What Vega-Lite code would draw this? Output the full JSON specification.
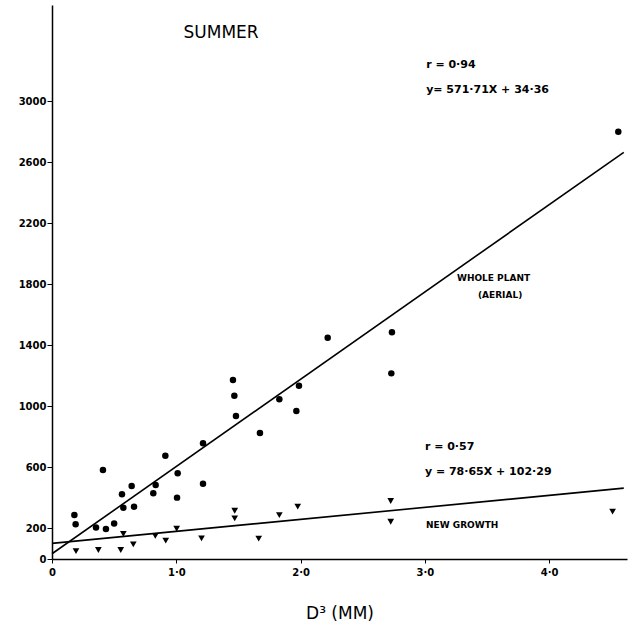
{
  "$schema": "https://vega.github.io/schema/vega-lite/v6.json",
  "autosize": {"type": "none"},
  "padding": {"left": 52, "top": 5, "right": 11, "bottom": 72},
  "width": 575,
  "height": 554,
  "background": "white",
  "config": {
    "view": {"stroke": null},
    "axis": {"grid": false, "domainColor": "black", "domainWidth": 1.5, "tickColor": "black", "labelColor": "black", "titleColor": "black", "labelFont": "DejaVu Sans", "titleFont": "DejaVu Sans"}
  },
  "datasets": {
    "whole": [
      {"d": 0.18, "w": 288}, {"d": 0.19, "w": 227}, {"d": 0.41, "w": 583}, {"d": 0.354, "w": 207},
      {"d": 0.434, "w": 196}, {"d": 0.50, "w": 233}, {"d": 0.563, "w": 424}, {"d": 0.574, "w": 336},
      {"d": 0.641, "w": 478}, {"d": 0.66, "w": 343}, {"d": 0.815, "w": 430}, {"d": 0.834, "w": 485},
      {"d": 0.912, "w": 677}, {"d": 1.011, "w": 561}, {"d": 1.006, "w": 402}, {"d": 1.215, "w": 758},
      {"d": 1.215, "w": 493}, {"d": 1.456, "w": 1172}, {"d": 1.467, "w": 1070}, {"d": 1.48, "w": 937},
      {"d": 1.673, "w": 825}, {"d": 1.829, "w": 1046}, {"d": 1.987, "w": 1135}, {"d": 1.966, "w": 969},
      {"d": 2.218, "w": 1449}, {"d": 2.735, "w": 1485}, {"d": 2.73, "w": 1216}, {"d": 4.556, "w": 2798}
    ],
    "newgrowth": [
      {"d": 0.193, "w": 52}, {"d": 0.373, "w": 59}, {"d": 0.553, "w": 59}, {"d": 0.574, "w": 164},
      {"d": 0.654, "w": 96}, {"d": 0.831, "w": 151}, {"d": 0.915, "w": 120}, {"d": 1.003, "w": 198},
      {"d": 1.203, "w": 135}, {"d": 1.47, "w": 316}, {"d": 1.47, "w": 266}, {"d": 1.663, "w": 133},
      {"d": 1.829, "w": 288}, {"d": 1.977, "w": 343}, {"d": 2.725, "w": 380}, {"d": 2.725, "w": 244},
      {"d": 4.51, "w": 310}
    ],
    "fits": [
      {"series": "whole", "d": 0, "w": 34.36}, {"series": "whole", "d": 4.6, "w": 2664.2},
      {"series": "new", "d": 0, "w": 102.29}, {"series": "new", "d": 4.6, "w": 464.1}
    ],
    "title": [{"d": 1.36, "w": 3445, "t": "SUMMER"}],
    "eqs": [
      {"d": 3.01, "w": 3236, "t": "r = 0·94"},
      {"d": 3.01, "w": 3072, "t": "y= 571·71X + 34·36"},
      {"d": 3.0, "w": 734, "t": "r = 0·57"},
      {"d": 3.0, "w": 570, "t": "y = 78·65X + 102·29"}
    ],
    "labels": [
      {"d": 3.258, "w": 1841, "t": "WHOLE  PLANT"},
      {"d": 3.427, "w": 1729, "t": "(AERIAL)"},
      {"d": 3.009, "w": 223, "t": "NEW  GROWTH"}
    ]
  },
  "layer": [
    {
      "data": {"name": "fits"},
      "mark": {"type": "line", "color": "black", "strokeWidth": 1.6},
      "encoding": {
        "x": {"field": "d", "type": "quantitative", "scale": {"domain": [0, 4.626], "nice": false},
          "axis": {"values": [0, 1, 2, 3, 4], "labelExpr": "datum.value == 0 ? '0' : replace(format(datum.value, '.1f'), '.', '·')",
            "title": "D³  (MM)", "titleFontSize": 17, "titleFontWeight": "normal", "titlePadding": 28,
            "labelFontSize": 10, "labelFontWeight": "bold", "tickSize": 4, "labelPadding": 4, "labelFlush": false}},
        "y": {"field": "w", "type": "quantitative", "scale": {"domain": [0, 3629], "nice": false},
          "axis": {"values": [0, 200, 600, 1000, 1400, 1800, 2200, 2600, 3000], "format": "d", "title": null,
            "labelFontSize": 10, "labelFontWeight": "bold", "tickSize": 5, "labelPadding": 1, "labelFlush": false}},
        "detail": {"field": "series"}
      }
    },
    {
      "data": {"name": "whole"},
      "mark": {"type": "point", "shape": "circle", "filled": true, "color": "black", "opacity": 1, "size": 42},
      "encoding": {
        "x": {"field": "d", "type": "quantitative"},
        "y": {"field": "w", "type": "quantitative"}
      }
    },
    {
      "data": {"name": "newgrowth"},
      "mark": {"type": "point", "shape": "triangle-down", "filled": true, "color": "black", "opacity": 1, "size": 45},
      "encoding": {
        "x": {"field": "d", "type": "quantitative"},
        "y": {"field": "w", "type": "quantitative"}
      }
    },
    {
      "data": {"name": "title"},
      "mark": {"type": "text", "font": "DejaVu Sans", "fontSize": 17, "align": "center", "baseline": "middle", "color": "black"},
      "encoding": {
        "x": {"field": "d", "type": "quantitative"},
        "y": {"field": "w", "type": "quantitative"},
        "text": {"field": "t"}
      }
    },
    {
      "data": {"name": "eqs"},
      "mark": {"type": "text", "font": "DejaVu Sans", "fontSize": 11, "fontWeight": "bold", "align": "left", "baseline": "middle", "color": "black"},
      "encoding": {
        "x": {"field": "d", "type": "quantitative"},
        "y": {"field": "w", "type": "quantitative"},
        "text": {"field": "t"}
      }
    },
    {
      "data": {"name": "labels"},
      "mark": {"type": "text", "font": "DejaVu Sans", "fontSize": 9, "fontWeight": "bold", "align": "left", "baseline": "middle", "color": "black"},
      "encoding": {
        "x": {"field": "d", "type": "quantitative"},
        "y": {"field": "w", "type": "quantitative"},
        "text": {"field": "t"}
      }
    }
  ]
}
